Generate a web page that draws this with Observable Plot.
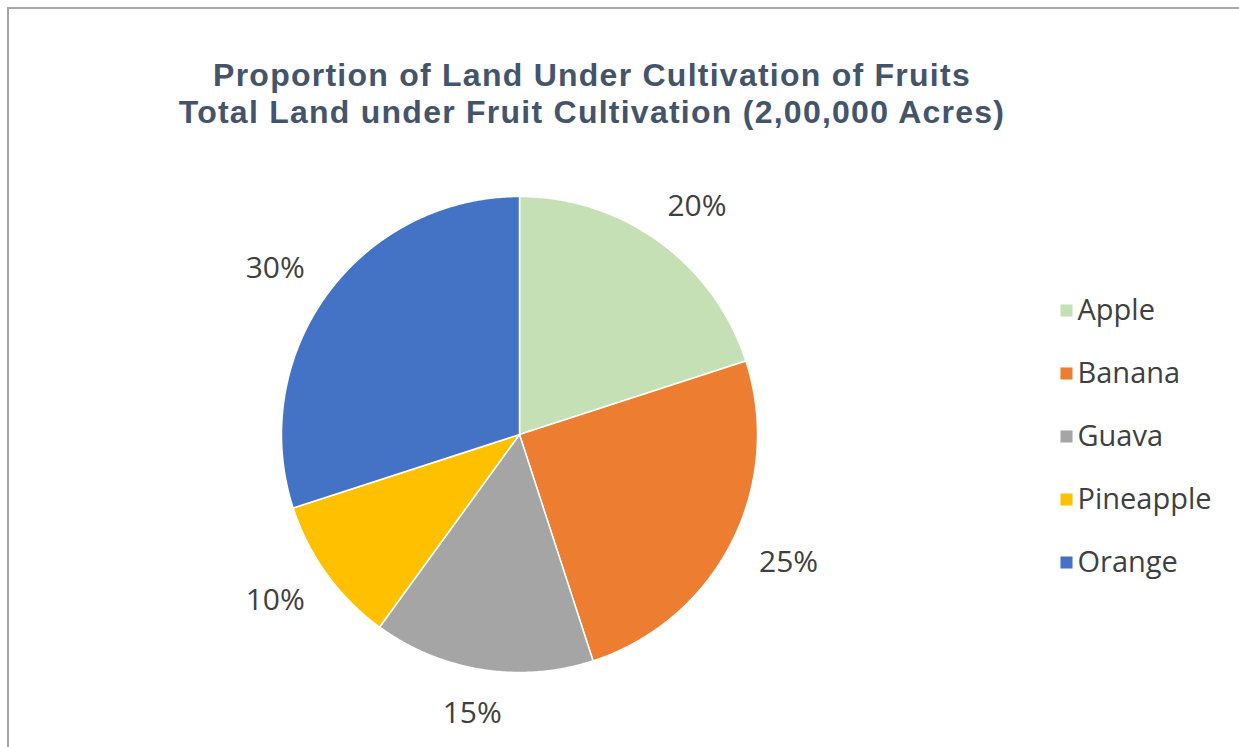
<!DOCTYPE html>
<html><head><meta charset="utf-8">
<script src="https://cdn.jsdelivr.net/npm/d3@7"></script>
<script src="https://cdn.jsdelivr.net/npm/@observablehq/plot@0.6"></script>
<style>
body{margin:0;background:#fff;}
#wrap{position:relative;width:1239px;height:747px;overflow:hidden;background:#fff;}
#frame{position:absolute;left:7px;top:7px;right:-5px;bottom:-5px;border-left:2px solid #a6a6a6;border-top:2px solid #a6a6a6;}
#title{position:absolute;left:0;width:1184px;top:57px;text-align:center;font:bold 32px "Liberation Sans",Arial,sans-serif;letter-spacing:1.25px;color:#44546A;line-height:37px;white-space:nowrap;}
#chart{position:absolute;left:0;top:140px;}
</style></head><body>
<div id="wrap"><div id="frame"></div><div id="title"><span id="t1">Proportion of Land Under Cultivation of Fruits</span><br><span id="t2">Total Land under Fruit Cultivation (2,00,000 Acres)</span></div><div id="chart"></div></div>
<script>
const fruits = ["Apple", "Banana", "Guava", "Pineapple", "Orange"];
const shares = [20, 25, 15, 10, 30];
const colors = ["#C5E0B4", "#ED7D31", "#A5A5A5", "#FFC000", "#4472C4"];
const labels = ["20%", "25%", "15%", "10%", "30%"];

// layout (pixels)
const W = 1239, H = 607, CX = 519, CY = 294, R = 238;
const LEG_X = 1066, LEG_STEP = 63, LEG_CY = 296;

const total = d3.sum(shares);
let acc = 0;
const slices = fruits.map((f, i) => {
  const a0 = acc / total * 2 * Math.PI;
  acc += shares[i];
  const a1 = acc / total * 2 * Math.PI;
  return {fruit: f, a0, a1, label: labels[i]};
});

// polygon outline of each slice (unit radius, y up, clockwise from 12 o'clock)
const slicePts = [];
for (const s of slices) {
  slicePts.push({fruit: s.fruit, x: 0, y: 0});
  const n = Math.max(2, Math.ceil((s.a1 - s.a0) / (Math.PI / 360)));
  for (let k = 0; k <= n; k++) {
    const a = s.a0 + (s.a1 - s.a0) * k / n;
    slicePts.push({fruit: s.fruit, x: Math.sin(a), y: Math.cos(a)});
  }
  slicePts.push({fruit: s.fruit, x: 0, y: 0});
}

// outside-end labels
const gap = 30 / R, hw = 34 / R, hh = 14 / R;
const labelPts = slices.map(s => {
  const m = (s.a0 + s.a1) / 2;
  const ux = Math.sin(m), uy = Math.cos(m);
  return {label: s.label, x: (1 + gap) * ux + hw * ux, y: (1 + gap) * uy + hh * uy};
});

// legend
const legend = fruits.map((f, i) => ({
  fruit: f,
  x: (LEG_X - CX) / R,
  y: (CY - (LEG_CY + (i - 2) * LEG_STEP)) / R
}));

const chart = Plot.plot({
  width: W, height: H, margin: 0,
  x: {domain: [-CX / R, (W - CX) / R], axis: null},
  y: {domain: [-(H - CY) / R, CY / R], axis: null},
  color: {domain: fruits, range: colors},
  style: {background: "transparent", overflow: "visible"},
  marks: [
    Plot.line(slicePts, {x: "x", y: "y", z: "fruit", fill: "fruit", stroke: "white", strokeWidth: 1.5, curve: "linear"}),
    Plot.text(labelPts, {x: "x", y: "y", text: "label", fontSize: 30, fill: "#404040", fontFamily: "Open Sans", textAnchor: "middle", lineAnchor: "middle"}),
    Plot.dot(legend, {x: "x", y: "y", fill: "fruit", symbol: "square", r: 6.8, stroke: null}),
    Plot.text(legend, {x: "x", y: "y", text: "fruit", dx: 11, textAnchor: "start", lineAnchor: "middle", fontSize: 29, fill: "#404040", fontFamily: "Open Sans"})
  ]
});
document.getElementById("chart").appendChild(chart);
</script>
</body></html>
